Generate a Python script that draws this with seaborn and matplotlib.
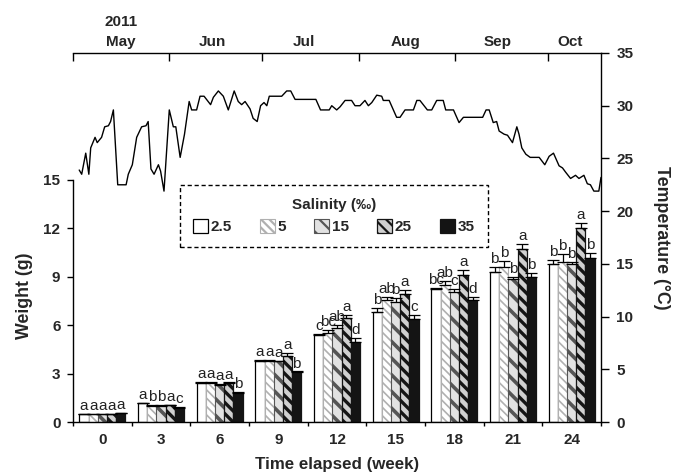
import numpy as np
import pandas as pd
import matplotlib
matplotlib.use("Agg")
import matplotlib.pyplot as plt
import seaborn as sns

# ---------------- data ----------------
weeks = ['0', '3', '6', '9', '12', '15', '18', '21', '24']
salinity = ['2.5', '5', '15', '25', '35']

weight_2_5 = [0.50, 1.16, 2.44, 3.80, 5.39, 6.84, 8.25, 9.32, 9.78]
weight_5 = [0.48, 1.01, 2.44, 3.78, 5.50, 7.56, 8.49, 9.59, 9.94]
weight_15 = [0.47, 1.00, 2.29, 3.75, 5.85, 7.46, 8.04, 8.85, 9.78]
weight_25 = [0.50, 1.05, 2.40, 4.10, 6.43, 7.94, 9.11, 10.71, 12.00]
weight_35 = [0.55, 0.89, 1.82, 3.08, 4.94, 6.37, 7.56, 8.97, 10.15]

err_2_5 = [0.02, 0.03, 0.04, 0.06, 0.06, 0.25, 0.08, 0.30, 0.26]
err_5 = [0.02, 0.03, 0.05, 0.06, 0.20, 0.20, 0.25, 0.40, 0.48]
err_15 = [0.02, 0.03, 0.04, 0.05, 0.15, 0.20, 0.20, 0.15, 0.15]
err_25 = [0.02, 0.03, 0.05, 0.15, 0.20, 0.25, 0.30, 0.30, 0.35]
err_35 = [0.02, 0.03, 0.04, 0.05, 0.25, 0.25, 0.20, 0.25, 0.35]

letters_2_5 = ['a', 'a', 'a', 'a', 'c', 'b', 'bc', 'b', 'b']
letters_5 = ['a', 'b', 'a', 'a', 'bc', 'ab', 'ab', 'b', 'b']
letters_15 = ['a', 'b', 'a', 'a', 'ab', 'b', 'c', 'b', 'b']
letters_25 = ['a', 'a', 'a', 'a', 'a', 'a', 'a', 'a', 'a']
letters_35 = ['a', 'c', 'b', 'b', 'd', 'c', 'd', 'b', 'b']

# daily water temperature (days since 1 May 2011)
temp_day = [2.0, 2.8, 4.1, 5.1, 5.7, 7.1, 7.8, 9.2, 10.2, 11.4, 12.1, 13.0, 14.4,
            17.1, 17.8, 19.1, 20.5, 22.1, 23.5, 24.2, 25.1, 26.1, 27.5, 28.2, 29.3,
            31.0, 32.3, 33.1, 34.5, 35.9, 37.4, 38.2, 39.8, 40.9, 42.2, 44.3, 45.2,
            46.8, 48.4, 50.0, 51.9, 53.2, 54.3, 55.4, 57.0, 58.0, 59.3, 60.4, 61.5,
            62.4, 63.2, 67.2, 68.8, 70.1, 71.5, 78.2, 79.7, 82.5, 83.3, 84.9, 86.0,
            87.6, 89.7, 90.8, 92.4, 94.0, 95.1, 96.2, 97.8, 99.4, 99.9, 101.8, 104.2,
            105.3, 106.9, 109.6, 110.7, 111.7, 114.1, 115.5, 117.1, 119.2, 120.0,
            122.5, 124.3, 125.7, 131.9, 133.0, 134.0, 135.3, 136.4, 137.2, 138.8,
            139.9, 141.5, 142.9, 143.6, 144.5, 145.8, 147.2, 150.1, 151.9, 153.3,
            154.7, 156.5, 157.6, 158.6, 160.2, 161.8, 162.9, 164.5, 165.6, 166.6,
            167.7, 169.3, 170.0]
temp_c = [23.9, 23.5, 25.5, 23.5, 26.0, 27.0, 26.5, 27.0, 28.0, 28.1, 28.5, 29.6, 22.5,
          22.5, 23.5, 24.4, 27.0, 28.0, 28.1, 28.5, 24.0, 23.5, 24.4, 23.8, 21.9,
          29.6, 28.0, 28.0, 25.1, 27.3, 30.4, 29.6, 29.6, 30.9, 30.9, 30.1, 30.8,
          31.4, 30.9, 29.6, 31.4, 30.4, 30.1, 30.4, 29.7, 28.8, 28.5, 30.0, 30.3,
          30.0, 30.9, 30.9, 31.4, 31.4, 30.6, 30.6, 29.6, 29.6, 30.0, 29.6, 29.9,
          30.5, 30.5, 30.0, 30.0, 30.5, 30.0, 30.3, 31.0, 30.9, 30.5, 30.5, 28.9,
          28.9, 29.6, 29.6, 30.5, 30.5, 29.6, 29.6, 30.5, 30.5, 29.6,
          29.6, 28.4, 28.9, 28.9, 29.6, 29.6, 28.4, 28.5, 27.6, 27.3,
          27.2, 26.5, 28.0, 27.3, 26.0, 25.4, 25.1, 25.1, 24.4, 25.2,
          25.5, 24.3, 24.1, 23.7, 23.1, 23.4, 23.1, 23.4, 22.6, 22.5,
          21.9, 21.9, 23.2]

months = ['May', 'Jun', 'Jul', 'Aug', 'Sep', 'Oct']
month_start_day = [0, 31, 61, 92, 123, 153]
month_label_day = [15.5, 44.8, 74.4, 107.2, 136.8, 160.0]

weights = [weight_2_5, weight_5, weight_15, weight_25, weight_35]
errs = [err_2_5, err_5, err_15, err_25, err_35]
letters = [letters_2_5, letters_5, letters_15, letters_25, letters_35]

df = pd.DataFrame({
    'week': np.tile(weeks, len(salinity)),
    'salinity': np.repeat(salinity, len(weeks)),
    'weight': np.concatenate(weights),
})

# ---------------- style ----------------
sns.set_style("ticks")
plt.rcParams['font.family'] = ['Liberation Sans', 'DejaVu Sans']
plt.rcParams['hatch.linewidth'] = 1.6

fig = plt.figure(figsize=(6.79, 4.76), dpi=100)
ax = fig.add_axes([73 / 679, 1 - 422 / 476, 528 / 679, 369 / 476])

sns.barplot(data=df, x='week', y='weight', hue='salinity', order=weeks,
            hue_order=salinity, width=0.78, errorbar=None, ax=ax, legend=False,
            palette=['white'] * 5, zorder=2)
bar_containers = list(ax.containers)

styles = [
    dict(facecolor='white', edgecolor='black', hatch=None, lw=0.9, hlw=1.0),
    dict(facecolor='white', edgecolor='#b0b0b0', hatch='\\\\\\\\', lw=0.8, hlw=1.2),
    dict(facecolor='#e2e2e2', edgecolor='#555555', hatch='\\\\', lw=0.8, hlw=2.6),
    dict(facecolor='#d0d0d0', edgecolor='#151515', hatch='\\\\\\', lw=0.9, hlw=2.4),
    dict(facecolor='#141414', edgecolor='#141414', hatch=None, lw=0.9, hlw=1.0),
]
for cont, st in zip(bar_containers, styles):
    for p in cont.patches:
        p.set_facecolor(st['facecolor'])
        p.set_edgecolor(st['edgecolor'])
        p.set_linewidth(st['lw'])
        if st['hatch']:
            p.set_hatch(st['hatch'])
        if hasattr(p, 'set_hatch_linewidth'):
            p.set_hatch_linewidth(st['hlw'])

for cont, vals, ers, labs in zip(bar_containers, weights, errs, letters):
    xs = [p.get_x() + p.get_width() / 2 for p in cont.patches]
    ax.errorbar(xs, vals, yerr=[np.zeros(len(vals)), ers], fmt='none',
                ecolor='black', elinewidth=0.9, capsize=4.5, capthick=0.9, zorder=3)
    for x, v, e, lab in zip(xs, vals, ers, labs):
        ax.text(x, v + e + 0.06, lab, ha='center', va='bottom', fontsize=11,
                color='#222222', zorder=4)

ax.set_xlim(-0.5, 8.5)
ax.set_ylim(0, 22.87)
ax.set_yticks([0, 3, 6, 9, 12, 15])
ax.spines['left'].set_bounds(0, 15)
ax.spines['top'].set_visible(False)
ax.spines['right'].set_visible(False)
for s in ['left', 'bottom']:
    ax.spines[s].set_linewidth(1.0)
    ax.spines[s].set_color('black')
ax.set_xticks(range(len(weeks)))
ax.set_xticklabels(weeks)
ax.set_xticks(np.arange(-0.5, 9.0, 1.0), minor=True)
ax.tick_params(axis='x', which='major', length=0, pad=8, labelsize=11)
ax.tick_params(axis='x', which='minor', length=3, width=1, direction='out', color='black')
ax.tick_params(axis='y', length=4, width=1, direction='out', pad=5, labelsize=11, color='black')
for t in ax.get_xticklabels() + ax.get_yticklabels():
    t.set_fontweight('bold')
ax.set_xlabel('Time elapsed (week)', fontsize=12.2, fontweight='bold')
ax.set_ylabel('Weight (g)', fontsize=12.8, fontweight='bold')
ax.xaxis.set_label_coords(0.5, -0.095)
ax.yaxis.set_label_coords(-0.075, 0.343)

# temperature axis
ax2 = ax.twinx()
ax2.set_ylim(0, 35)
ax2.set_yticks(range(0, 36, 5))
for s in ['left', 'top', 'bottom']:
    ax2.spines[s].set_visible(False)
ax2.spines['right'].set_linewidth(1.0)
ax2.spines['right'].set_color('black')
ax2.tick_params(axis='y', length=6, width=1, direction='out', pad=5, labelsize=11, color='black')
for t in ax2.get_yticklabels():
    t.set_fontweight('bold')
ax2.set_ylabel('Temperature (\u00b0C)', fontsize=12.8, fontweight='bold', rotation=270)
ax2.yaxis.set_label_coords(1.13, 0.5)

ax3 = ax2.twiny()
ax3.set_xlim(0, 170)
sns.lineplot(x=temp_day, y=temp_c, ax=ax3, color='black', linewidth=1.0,
             estimator=None, sort=False)
ax3.set_ylim(0, 35)
for s in ['left', 'right', 'bottom']:
    ax3.spines[s].set_visible(False)
ax3.spines['top'].set_linewidth(1.0)
ax3.spines['top'].set_color('black')
ax3.set_xticks(month_start_day)
ax3.set_xticklabels([])
ax3.set_xticks(month_label_day, minor=True)
ax3.set_xticklabels(months, minor=True)
ax3.tick_params(axis='x', which='major', direction='in', length=6, width=1, color='black')
ax3.tick_params(axis='x', which='minor', length=0, pad=3, labelsize=11)
for t in ax3.get_xticklabels(minor=True):
    t.set_fontweight('bold')
ax3.text(month_label_day[0], 1.085, '2011', transform=ax3.get_xaxis_transform(),
         ha='center', va='center', fontsize=11, fontweight='bold')

handles = [c.patches[0] for c in bar_containers]
leg = ax3.legend(handles, salinity, title='Salinity (\u2030)', ncol=5, loc='center',
                 bbox_to_anchor=(0.494, 0.558), bbox_transform=ax.transAxes,
                 frameon=True, fancybox=False, framealpha=1, edgecolor='black',
                 handlelength=0.95, handleheight=0.95, handletextpad=0.2,
                 columnspacing=1.85, borderpad=0.85,
                 prop={'weight': 'bold', 'size': 11},
                 title_fontproperties={'weight': 'bold', 'size': 11})
leg.get_frame().set_linestyle((0, (3, 2)))
leg.get_frame().set_linewidth(1.0)

fig.savefig('out.png', dpi=100)
